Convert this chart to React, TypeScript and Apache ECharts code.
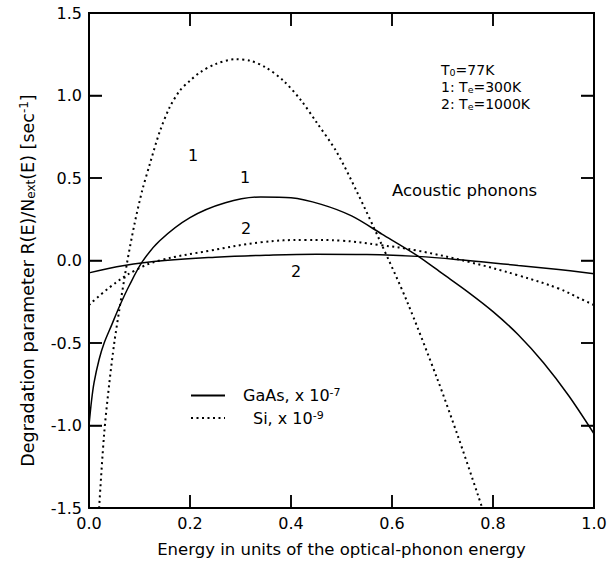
import React, { useEffect, useRef } from "react";
import * as echarts from "echarts";

const xTicks = [0, 0.2, 0.4, 0.6, 0.8, 1.0];
const yTicks = [-1.5, -1.0, -0.5, 0, 0.5, 1.0, 1.5];

const gaas300E = [0, 0.005, 0.01, 0.02, 0.03, 0.045, 0.06, 0.08, 0.105, 0.14, 0.2, 0.27, 0.34, 0.4, 0.46, 0.52, 0.58, 0.65, 0.7, 0.75, 0.8, 0.85, 0.9, 0.95, 1.0];
const gaas300V = [-1.0, -0.85, -0.74, -0.6, -0.5, -0.39, -0.28, -0.15, -0.01, 0.12, 0.26, 0.35, 0.385, 0.38, 0.34, 0.27, 0.16, 0.03, -0.08, -0.19, -0.31, -0.45, -0.62, -0.82, -1.05];

const gaas1000E = [0, 0.07, 0.15, 0.25, 0.35, 0.45, 0.55, 0.65, 0.75, 0.85, 0.93, 1.0];
const gaas1000V = [-0.075, -0.03, 0.0, 0.02, 0.032, 0.038, 0.036, 0.025, 0.0, -0.03, -0.055, -0.08];

const si300E = [0.012, 0.02, 0.03, 0.04, 0.05, 0.06, 0.075, 0.09, 0.105, 0.12, 0.14, 0.16, 0.18, 0.2, 0.22, 0.25, 0.29, 0.32, 0.35, 0.385, 0.42, 0.45, 0.49, 0.53, 0.576, 0.63, 0.69, 0.73, 0.77, 0.785];
const si300V = [-1.9, -1.5, -1.05, -0.75, -0.5, -0.3, -0.02, 0.22, 0.42, 0.58, 0.78, 0.93, 1.03, 1.09, 1.14, 1.19, 1.22, 1.21, 1.17, 1.09, 0.97, 0.84, 0.66, 0.42, 0.12, -0.25, -0.72, -1.06, -1.42, -1.56];

const si1000E = [0, 0.042, 0.091, 0.14, 0.24, 0.34, 0.43, 0.5, 0.576, 0.65, 0.754, 0.85, 0.93, 0.972, 1.0];
const si1000V = [-0.27, -0.16, -0.06, 0.0, 0.06, 0.11, 0.125, 0.12, 0.094, 0.06, -0.01, -0.09, -0.17, -0.23, -0.27];

const FONT = "'DejaVu Sans', 'Liberation Sans', Arial, sans-serif";

const pairs = (xs: number[], ys: number[]) => xs.map((x, i) => [x, ys[i]]);

function makeAxis(kind: "x" | "y", position: string, withLabels: boolean) {
  const isX = kind === "x";
  return {
    type: "value",
    min: isX ? xTicks[0] : yTicks[0],
    max: isX ? xTicks[xTicks.length - 1] : yTicks[yTicks.length - 1],
    interval: isX ? 0.2 : 0.5,
    position,
    axisLine: { show: true, onZero: false, lineStyle: { color: "#000", width: 2 } },
    axisTick: { show: true, inside: true, length: 13, lineStyle: { color: "#000", width: 1.5 } },
    splitLine: { show: false },
    axisLabel: withLabels
      ? { show: true, fontFamily: FONT, fontSize: 16, color: "#000", margin: 7, formatter: (v: number) => v.toFixed(1) }
      : { show: false },
  };
}

export default function App() {
  const ref = useRef<HTMLDivElement>(null);
  useEffect(() => {
    if (!ref.current) return;
    const chart = echarts.init(ref.current, undefined, { renderer: "svg" });
    const solid = { color: "#000", width: 1.5, type: "solid" as const };
    const dotted = { color: "#000", width: 2, type: [2, 3.5] as any };
    const xMain: any = makeAxis("x", "bottom", true);
    xMain.name = "Energy in units of the optical-phonon energy";
    xMain.nameLocation = "middle";
    xMain.nameGap = 33;
    xMain.nameTextStyle = { fontFamily: FONT, fontSize: 16.5, color: "#000" };
    const yMain: any = makeAxis("y", "left", true);
    yMain.name = "{a|Degradation parameter R(E)/N}{sub|ext}{a|(E) [sec}{sup|-1}{a|]}";
    yMain.nameLocation = "middle";
    yMain.nameRotate = 90;
    yMain.nameGap = 52;
    yMain.nameTextStyle = {
      fontFamily: FONT, fontSize: 17.5, color: "#000", padding: [0, 40, 0, 0],
      rich: {
        a: { fontFamily: FONT, fontSize: 17.5, color: "#000" },
        sub: { fontFamily: FONT, fontSize: 12, color: "#000", verticalAlign: "bottom", padding: [7, 0, 0, 0] },
        sup: { fontFamily: FONT, fontSize: 12, color: "#000", verticalAlign: "top", padding: [0, 0, 7, 0] },
      },
    };
    const sub = { font: `9.5px ${FONT}`, fill: "#000", verticalAlign: "bottom", padding: [3, 0, 0, 0] };
    const reg = { font: `14px ${FONT}`, fill: "#000" };
    const frameItem = (params: any, api: any) => {
      const x0 = xTicks[0], x1 = xTicks[xTicks.length - 1];
      const y0 = yTicks[0], y1 = yTicks[yTicks.length - 1];
      const p = (x: number, y: number) => api.coord([x, y]);
      const st = { stroke: "#000", lineWidth: 1.5, fill: null };
      const children: any[] = [
        { type: "polyline", shape: { points: [p(x0, y0), p(x1, y0), p(x1, y1), p(x0, y1), p(x0, y0)] }, style: { stroke: "#000", lineWidth: 2, fill: null } },
      ];
      xTicks.forEach((v) => {
        const a = p(v, y0), b = p(v, y1);
        children.push({ type: "line", shape: { x1: a[0], y1: a[1], x2: a[0], y2: a[1] - 13 }, style: st });
        children.push({ type: "line", shape: { x1: b[0], y1: b[1], x2: b[0], y2: b[1] + 13 }, style: st });
      });
      yTicks.forEach((v) => {
        const a = p(x0, v), b = p(x1, v);
        children.push({ type: "line", shape: { x1: a[0], y1: a[1], x2: a[0] + 13, y2: a[1] }, style: st });
        children.push({ type: "line", shape: { x1: b[0], y1: b[1], x2: b[0] - 13, y2: b[1] }, style: st });
      });
      return { type: "group", children };
    };
    chart.setOption({
      animation: false,
      grid: { left: 89, top: 13, right: 21, bottom: 55 },
      xAxis: [xMain, makeAxis("x", "top", false)],
      yAxis: [yMain, makeAxis("y", "right", false)],
      legend: {
        orient: "vertical", left: 185, top: 382, itemWidth: 34, itemHeight: 14, itemGap: 6,
        data: ["GaAs 300K", "Si 300K"],
        itemStyle: { opacity: 0 },
        formatter: (name: string) =>
          name.startsWith("GaAs") ? "{g|GaAs, x 10}{sup|-7}" : "{s|Si, x 10}{sup|-9}",
        textStyle: {
          fontFamily: FONT, fontSize: 16, color: "#000",
          rich: {
            g: { fontFamily: FONT, fontSize: 16, color: "#000", padding: [0, 0, 0, 13] },
            s: { fontFamily: FONT, fontSize: 16, color: "#000", padding: [0, 0, 0, 23] },
            sup: { fontFamily: FONT, fontSize: 11, color: "#000", verticalAlign: "top", padding: [0, 0, 6, 0] },
          },
        },
      },
      series: [
        { name: "GaAs 300K", type: "line", color: "#000", data: pairs(gaas300E, gaas300V), smooth: 0.3, showSymbol: false, symbol: "none", lineStyle: solid, clip: true },
        { name: "GaAs 1000K", type: "line", color: "#000", data: pairs(gaas1000E, gaas1000V), smooth: 0.4, showSymbol: false, symbol: "none", lineStyle: solid, clip: true },
        { name: "Si 300K", type: "line", color: "#000", data: pairs(si300E, si300V), smooth: 0.3, showSymbol: false, symbol: "none", lineStyle: dotted, clip: true },
        { name: "Si 1000K", type: "line", color: "#000", data: pairs(si1000E, si1000V), smooth: 0.4, showSymbol: false, symbol: "none", lineStyle: dotted, clip: true },
        { name: "frame", type: "custom", coordinateSystem: "cartesian2d", data: [[0, 0]], clip: false, z: 20, silent: true, renderItem: frameItem },
      ],
      graphic: [
        { type: "text", x: 193, y: 155, style: { text: "1", font: `16px ${FONT}`, fill: "#000", align: "center", verticalAlign: "middle" } },
        { type: "text", x: 245, y: 177, style: { text: "1", font: `16px ${FONT}`, fill: "#000", align: "center", verticalAlign: "middle" } },
        { type: "text", x: 246, y: 228, style: { text: "2", font: `16px ${FONT}`, fill: "#000", align: "center", verticalAlign: "middle" } },
        { type: "text", x: 296, y: 271, style: { text: "2", font: `16px ${FONT}`, fill: "#000", align: "center", verticalAlign: "middle" } },
        { type: "text", x: 441, y: 70, style: { text: "{a|T}{sub|0}{a|=77K}", verticalAlign: "middle", rich: { a: reg, sub } } },
        { type: "text", x: 441, y: 87, style: { text: "{a|1: T}{sub|e}{a|=300K}", verticalAlign: "middle", rich: { a: reg, sub } } },
        { type: "text", x: 441, y: 104, style: { text: "{a|2: T}{sub|e}{a|=1000K}", verticalAlign: "middle", rich: { a: reg, sub } } },
        { type: "text", x: 392, y: 190, style: { text: "Acoustic phonons", font: `16.5px ${FONT}`, fill: "#000", verticalAlign: "middle" } },
      ],
    });
    return () => chart.dispose();
  }, []);
  return <div ref={ref} style={{ position: "fixed", left: 0, top: 0, width: 615, height: 563, background: "#fff" }} />;
}
